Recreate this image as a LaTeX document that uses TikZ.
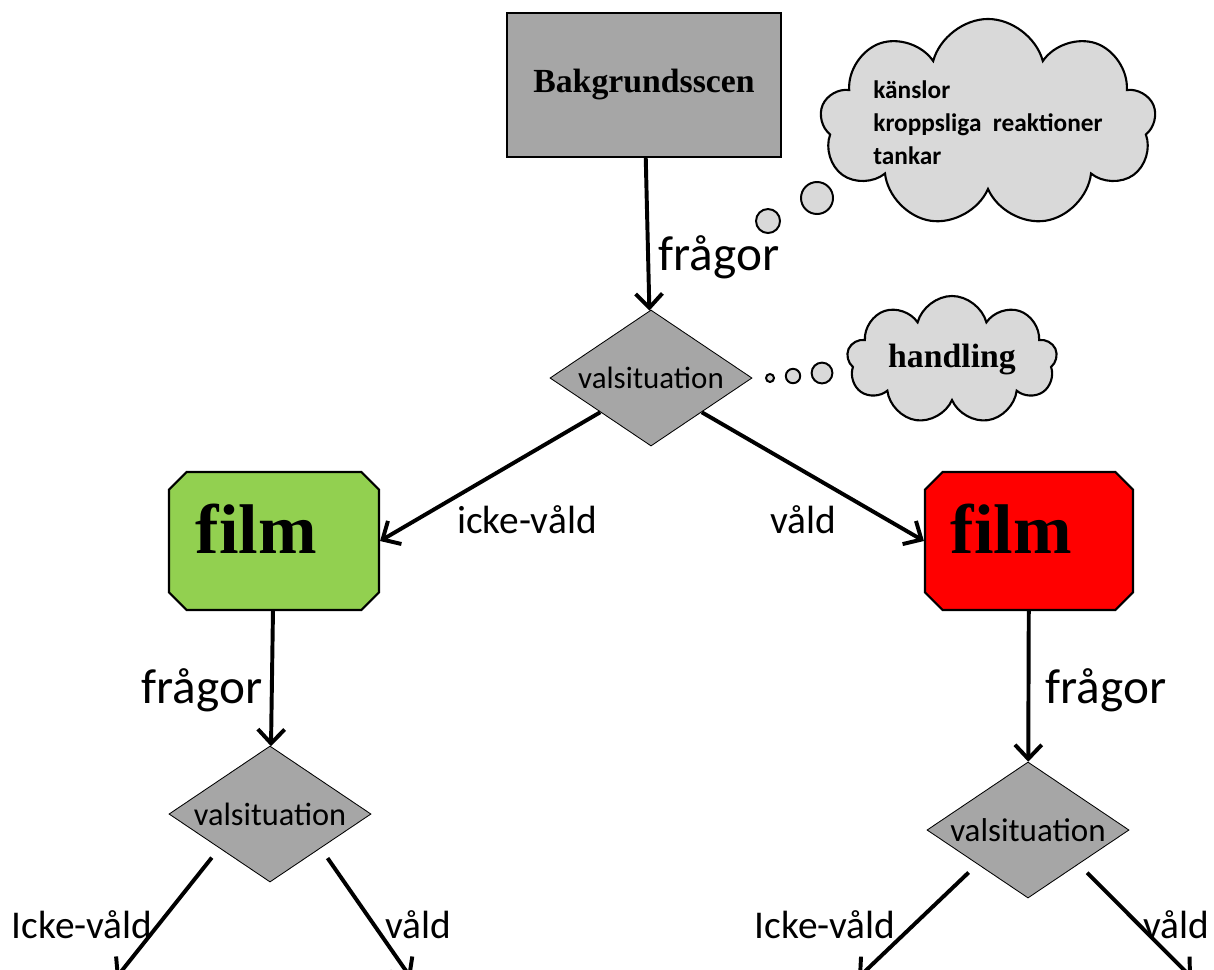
\documentclass[tikz,border=0pt]{standalone}
\usepackage{fontspec}
\setmainfont{Carlito}
\newfontfamily\serif{Liberation Serif}
\usetikzlibrary{arrows.meta,shapes.geometric,shapes.symbols,shapes.misc}
\definecolor{boxgray}{HTML}{A6A6A6}
\definecolor{cloudgray}{HTML}{D9D9D9}
\definecolor{filmgreen}{HTML}{92D050}
\definecolor{filmred}{HTML}{FF0000}
\begin{document}
\begin{tikzpicture}[x=0.025cm, y=-0.025cm, >={Straight Barb[length=10pt,width=19pt]}]
  \tikzset{scene/.style={draw, line width=1.6pt, fill=boxgray, minimum width=6.85cm, minimum height=3.6cm, font=\fontsize{24}{28}\selectfont\serif\bfseries},
    choice/.style={diamond, aspect=1.47, draw, line width=0.6pt, fill=boxgray, inner sep=0pt, minimum width=5.05cm, minimum height=3.4cm},
    filmbox/.style={chamfered rectangle, chamfered rectangle xsep=0.22cm, chamfered rectangle ysep=0.22cm, draw, line width=1.5pt, minimum width=5.25cm, minimum height=3.45cm, text width=3.9cm, text depth=0.6cm, align=left, font=\fontsize{50}{56}\selectfont\serif\bfseries},
    thought/.style={cloud, cloud puffs=9, cloud ignores aspect, draw, fill=cloudgray, line width=1.5pt},
    bubble/.style={circle, draw, fill=cloudgray, line width=1.4pt, inner sep=0pt},
    flow/.style={->, line width=2.8pt},
    big/.style={font=\fontsize{35}{40}\selectfont},
    lab/.style={font=\fontsize{28}{32}\selectfont}}
  \useasboundingbox (0,0) rectangle (1214,969);
  \node[scene] (bg) at (644,85) {Bakgrundsscen};
  \node[thought, inner sep=0pt, minimum width=6.1cm, minimum height=5.2cm, align=left, font=\fontsize{18}{23.5}\selectfont\bfseries] (feel) at (988,123) {känslor\\kroppsliga\ \ reaktioner\\tankar};
  \node[bubble, minimum size=0.8cm] (b1) at (817,198) {};
  \node[bubble, minimum size=0.6cm] (b2) at (768,221) {};
  \node[choice, font=\fontsize{22}{26}\selectfont] (d1) at (651,378) {valsituation};
  \node[thought, minimum width=5.25cm, minimum height=3.2cm, font=\fontsize{24}{28}\selectfont\serif\bfseries] (act) at (952,360) {handling\\[1.6cm]};
  \node[bubble, minimum size=0.2cm] (b3) at (770,378) {};
  \node[bubble, minimum size=0.36cm] (b4) at (793,376) {};
  \node[bubble, minimum size=0.52cm] (b5) at (822,373) {};
  \node[filmbox, fill=filmgreen] (filmL) at (274,541) {film};
  \node[filmbox, fill=filmred, minimum width=5.2cm] (filmR) at (1029,541) {film};
  \node[choice, font=\fontsize{23}{27}\selectfont] (d2) at (270,814) {valsituation};
  \node[choice, font=\fontsize{23.5}{27}\selectfont] (d3) at (1028,830) {valsituation};
  \coordinate (endA) at (116,978);
  \coordinate (endB) at (411,978);
  \coordinate (endC) at (858,978);
  \coordinate (endD) at (1192,978);
  \draw[flow] (bg) -- (d1);
  \draw[flow] (d1.south west) -- (filmL.east);
  \draw[flow] (d1.south east) -- (filmR.west);
  \draw[flow] (filmL) -- (d2);
  \draw[flow] (filmR) -- (d3);
  \draw[flow, shorten <=0.3cm] (d2.south west) -- (endA);
  \draw[flow, shorten <=0.3cm] (d2.south east) -- (endB);
  \draw[flow, shorten <=0.3cm] (d3.south west) -- (endC);
  \draw[flow, shorten <=0.3cm] (d3.south east) -- (endD);
  \node[big] (q1) at (719,257) {frågor};
  \node[big] (q2) at (202,690) {frågor};
  \node[big] (q3) at (1106,690) {frågor};
  \node[lab] (nv1) at (527,520) {icke-våld};
  \node[lab] (v1) at (803,520) {våld};
  \node[lab] (nv2) at (82,925) {Icke-våld};
  \node[lab] (v2) at (418,925) {våld};
  \node[lab] (nv3) at (825,925) {Icke-våld};
  \node[lab] (v3) at (1176,925) {våld};
\end{tikzpicture}
\end{document}
